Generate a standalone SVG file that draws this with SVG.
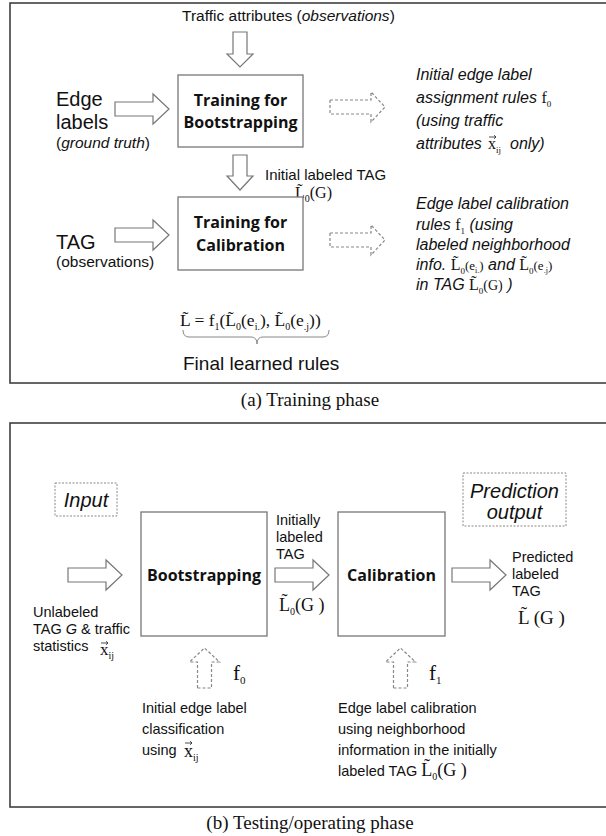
<svg xmlns="http://www.w3.org/2000/svg" width="606" height="836" viewBox="0 0 606 836">
<defs>
<path id="vec" d="M0 0 H7 M5 -1.8 L7 0 L5 1.8" fill="none" stroke="#222" stroke-width="0.8"/>
</defs>
<style>
.frame{fill:none;stroke:#333;stroke-width:1.5}
.box{fill:#fff;stroke:#777;stroke-width:1.3}
.dbox{fill:none;stroke:#888;stroke-width:1;stroke-dasharray:2,1.5}
.arr{fill:#fff;stroke:#777;stroke-width:1.2}
.darr{fill:#fff;stroke:#888;stroke-width:1.2;stroke-dasharray:3,2}
.s{font-family:"Liberation Sans",Arial,sans-serif;fill:#111}
.b{font-family:"Open Sans","Liberation Sans",sans-serif;font-weight:bold;font-size:16px;fill:#111}
.m{font-family:"Liberation Serif","Times New Roman",serif;fill:#111;font-style:normal}
.i{font-style:italic}
.cap{font-family:"Liberation Serif","Times New Roman",serif;font-size:19px;fill:#111}
</style>
<rect class="frame" x="10" y="3" width="605" height="380"/>
<rect class="frame" x="10" y="423" width="605" height="384"/>
<text class="cap" x="310" y="406" text-anchor="middle">(a)  Training phase</text>
<text class="cap" x="310" y="829" text-anchor="middle">(b)  Testing/operating phase</text>

<g id="connectors">
<path class="arr" d="M233 32 H247 V54 H253 L240 67 L227 54 H233 Z"/>
<path class="arr" d="M233 155 H247 V176 H253 L240 190 L227 176 H233 Z"/>
<path class="arr" d="M115 102 H153 V94 L169 109 L153 124 V116 H115 Z"/>
<path class="arr" d="M115 228 H153 V220 L169 235 L153 250 V242 H115 Z"/>
<path class="darr" d="M330 100 H371 V92 L385 107 L371 122 V114 H330 Z"/>
<path class="darr" d="M330 233 H371 V225 L385 240 L371 255 V247 H330 Z"/>
<path class="arr" d="M68 568 H106 V560 L122 575 L106 590 V582 H68 Z"/>
<path class="arr" d="M275 568 H313 V560 L329 575 L313 590 V582 H275 Z"/>
<path class="arr" d="M452 568 H490 V560 L506 575 L490 590 V582 H452 Z"/>
<path class="darr" d="M197.5 688 V662 H189.5 L204.5 648 L219.5 662 H211.5 V688 Z"/>
<path class="darr" d="M393.5 688 V662 H385.5 L400.5 648 L415.5 662 H407.5 V688 Z"/>
<path d="M183 330 Q183 337 189 337 H251 Q257 337 257 344 Q257 337 263 337 H323 Q329 337 329 330" fill="none" stroke="#888" stroke-width="1"/>
</g>

<text class="s" x="182" y="21" font-size="15.5">Traffic attributes (<tspan class="i">observations</tspan>)</text>

<g id="edge-labels">
<text class="s" x="56" y="106" font-size="20">Edge</text>
<text class="s" x="56" y="129" font-size="20">labels</text>
<text class="s" x="56" y="148" font-size="15.5">(<tspan class="i">ground truth</tspan>)</text>
</g>

<g id="train-boot">
<rect class="box" x="178" y="75" width="125" height="72"/>
<text class="b" x="240.5" y="106" text-anchor="middle">Training for</text>
<text class="b" x="240.5" y="128" text-anchor="middle">Bootstrapping</text>
</g>

<g id="rules-f0">
<text class="s i" x="416" y="80" font-size="16">Initial edge label</text>
<text class="s i" x="416" y="103" font-size="16">assignment rules <tspan class="m" font-size="16"> f</tspan><tspan class="m" font-size="9" dy="4">0</tspan></text>
<text class="s i" x="416" y="126" font-size="16">(using traffic</text>
<text class="s i" x="416" y="149" font-size="16">attributes</text>
<text class="m" x="488" y="149" font-size="16">x<tspan font-size="9" dy="4">ij</tspan></text>
<use href="#vec" x="489" y="137"/>
<text class="s i" x="510" y="149" font-size="16">only)</text>
</g>

<g id="init-tag">
<text class="s" x="265" y="180" font-size="15">Initial labeled TAG</text>
<text class="m" x="295" y="198" font-size="16">L̃<tspan font-size="10" dy="4">0</tspan><tspan dy="-4">(G)</tspan></text>
</g>

<g id="tag-obs">
<text class="s" x="56" y="249" font-size="20">TAG</text>
<text class="s" x="56" y="267" font-size="15.5">(observations)</text>
</g>

<g id="train-cal">
<rect class="box" x="178" y="197" width="125" height="73"/>
<text class="b" x="240.5" y="228" text-anchor="middle">Training for</text>
<text class="b" x="240.5" y="251" text-anchor="middle">Calibration</text>
</g>

<g id="rules-f1">
<text class="s i" x="416" y="209" font-size="16">Edge label calibration</text>
<text class="s i" x="416" y="229.5" font-size="16">rules <tspan class="m"> f</tspan><tspan class="m" font-size="9" dy="4">1</tspan><tspan dy="-4"> (using</tspan></text>
<text class="s i" x="416" y="250" font-size="16">labeled neighborhood</text>
<text class="s i" x="416" y="270" font-size="16">info. <tspan class="m">L̃</tspan><tspan class="m" font-size="9" dy="4">0</tspan><tspan class="m" font-size="13" dy="-4">(e</tspan><tspan class="m" font-size="8" dy="3">i.</tspan><tspan class="m" font-size="13" dy="-3">)</tspan> and <tspan class="m">L̃</tspan><tspan class="m" font-size="9" dy="4">0</tspan><tspan class="m" font-size="13" dy="-4">(e</tspan><tspan class="m" font-size="8" dy="3">.j</tspan><tspan class="m" font-size="13" dy="-3">)</tspan></text>
<text class="s i" x="416" y="290" font-size="16">in TAG <tspan class="m">L̃</tspan><tspan class="m" font-size="9" dy="4">0</tspan><tspan class="m" font-size="14" dy="-4">(G)</tspan> )</text>
</g>

<g id="final-rules">
<text class="m" x="180" y="326" font-size="17.5">L̃ =  f<tspan font-size="10" dy="4">1</tspan><tspan dy="-4">(L̃</tspan><tspan font-size="10" dy="4">0</tspan><tspan dy="-4">(e</tspan><tspan font-size="10" dy="4">i.</tspan><tspan dy="-4">), L̃</tspan><tspan font-size="10" dy="4">0</tspan><tspan dy="-4">(e</tspan><tspan font-size="10" dy="4">.j</tspan><tspan dy="-4">))</tspan></text>
<text class="s" x="183" y="370" font-size="19">Final learned rules</text>
</g>

<g id="input">
<rect class="dbox" x="55" y="483" width="62" height="33"/>
<text class="s i" x="86" y="507" font-size="20" text-anchor="middle">Input</text>
</g>

<g id="unlabeled">
<text class="s" x="33" y="617" font-size="14.5">Unlabeled</text>
<text class="s" x="33" y="634" font-size="14.5">TAG <tspan class="i">G</tspan> &amp; traffic</text>
<text class="s" x="33" y="651" font-size="14.5">statistics</text>
<text class="m" x="100" y="655" font-size="17">x<tspan font-size="10" dy="4">ij</tspan></text>
<use href="#vec" x="101" y="643"/>
</g>

<g id="bootstrapping">
<rect class="box" x="141" y="512" width="126" height="124"/>
<text class="b" x="204" y="581" text-anchor="middle">Bootstrapping</text>
</g>

<g id="initially-labeled">
<text class="s" x="276" y="525" font-size="14.5">Initially</text>
<text class="s" x="276" y="542" font-size="14.5">labeled</text>
<text class="s" x="276" y="559" font-size="14.5">TAG</text>
<text class="m" x="279" y="611" font-size="18">L̃<tspan font-size="10" dy="4">0</tspan><tspan dy="-4">(G )</tspan></text>
</g>

<g id="calibration">
<rect class="box" x="338" y="512" width="107" height="124"/>
<text class="b" x="391.5" y="581" text-anchor="middle">Calibration</text>
</g>

<g id="prediction-output">
<rect class="dbox" x="463" y="473" width="103" height="53"/>
<text class="s i" x="514.5" y="498" font-size="20" text-anchor="middle">Prediction</text>
<text class="s i" x="514.5" y="519" font-size="20" text-anchor="middle">output</text>
</g>

<g id="predicted">
<text class="s" x="512" y="562" font-size="14.5">Predicted</text>
<text class="s" x="512" y="579" font-size="14.5">labeled</text>
<text class="s" x="512" y="596" font-size="14.5">TAG</text>
<text class="m" x="518" y="624" font-size="19">L̃ (G )</text>
</g>

<g id="f0-label">
<text class="m" x="233" y="680" font-size="21">f<tspan font-size="11" dy="4">0</tspan></text>
<text class="s" x="142" y="713" font-size="14.5">Initial edge label</text>
<text class="s" x="142" y="734" font-size="14.5">classification</text>
<text class="s" x="142" y="755" font-size="14.5">using</text>
<text class="m" x="184" y="757" font-size="18">x<tspan font-size="10" dy="4">ij</tspan></text>
<use href="#vec" x="185" y="743"/>
</g>

<g id="f1-label">
<text class="m" x="429" y="680" font-size="21">f<tspan font-size="11" dy="4">1</tspan></text>
<text class="s" x="338" y="713" font-size="14.5">Edge label calibration</text>
<text class="s" x="338" y="734" font-size="14.5">using neighborhood</text>
<text class="s" x="338" y="755" font-size="14.5">information in the initially</text>
<text class="s" x="338" y="776" font-size="14.5">labeled TAG <tspan class="m" font-size="18">L̃</tspan><tspan class="m" font-size="10" dy="4">0</tspan><tspan class="m" font-size="18" dy="-4">(G )</tspan></text>
</g>
</svg>
